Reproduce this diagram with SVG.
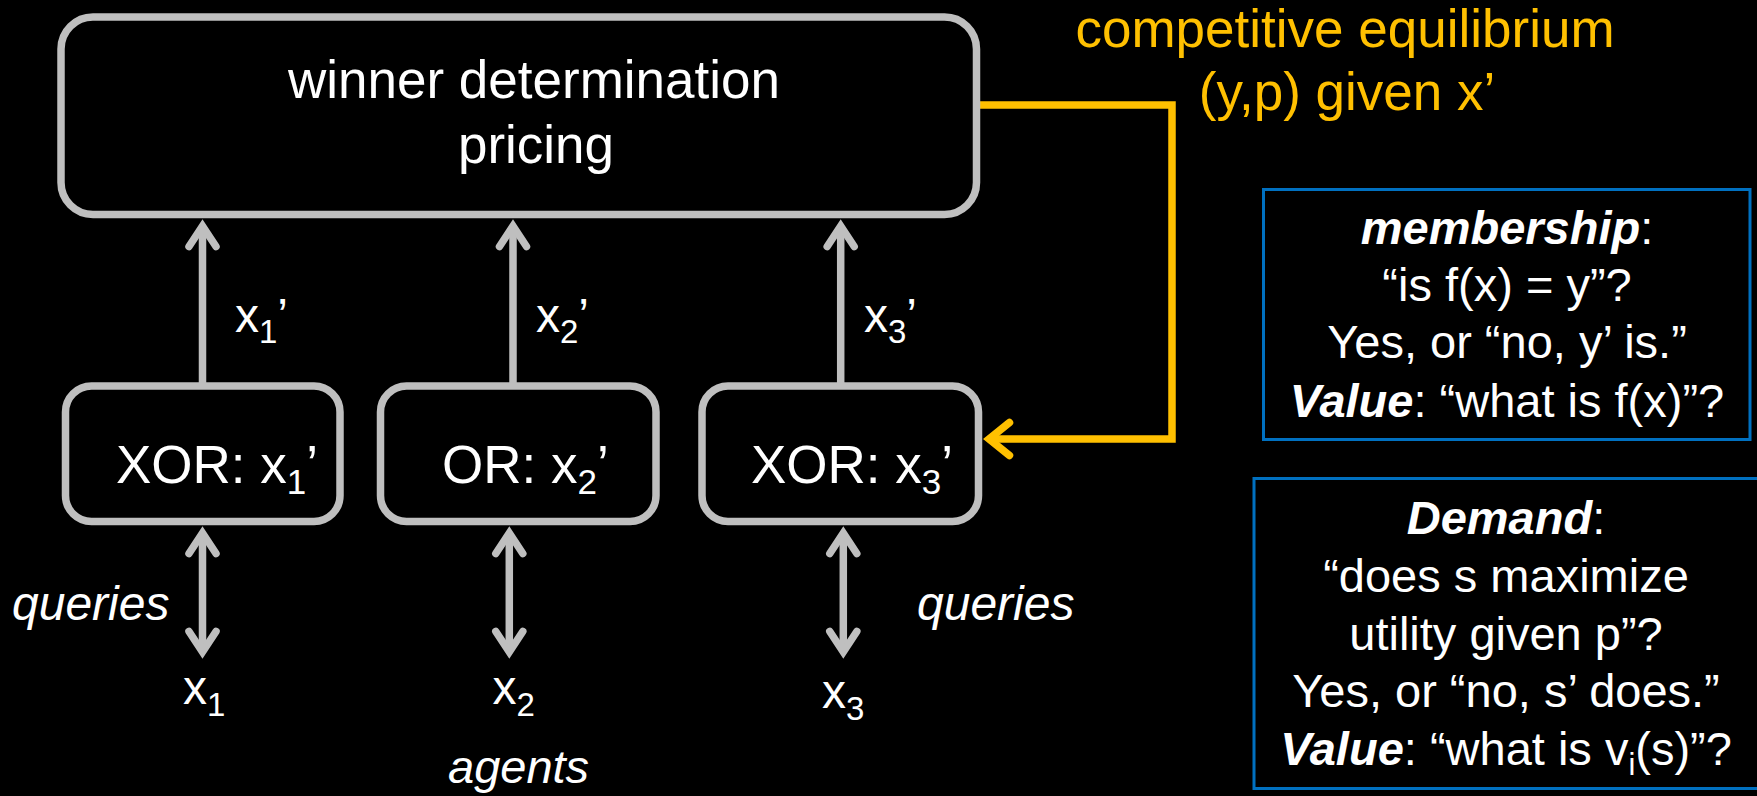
<svg xmlns="http://www.w3.org/2000/svg" width="1757" height="796" viewBox="0 0 1757 796">
  <defs>
    <style>
      text { font-family: "Liberation Sans", Arial, sans-serif; fill: #FFFFFF; }
      .big { font-size: 53px; }
      .lbl { font-size: 48px; }
      .info { font-size: 47px; text-anchor: middle; }
      .mid { text-anchor: middle; }
      .it { font-style: italic; }
      .bi { font-style: italic; font-weight: bold; }
      .gold { fill: #FFC000; }
      .box { fill: #000000; stroke: #BFBFBF; stroke-width: 7.5; }
      .panel { fill: #000000; stroke: #0070C0; stroke-width: 3; }
      .wire { fill: none; stroke: #BFBFBF; stroke-width: 7.5; }
      .head { fill: none; stroke: #BFBFBF; stroke-width: 7.5; stroke-linecap: round; stroke-linejoin: miter; stroke-miterlimit: 10; }
      .gwire { fill: none; stroke: #FFC000; stroke-width: 7.5; stroke-linejoin: miter; }
      .ghead { fill: none; stroke: #FFC000; stroke-width: 7.5; stroke-linecap: round; stroke-linejoin: miter; stroke-miterlimit: 10; }
    </style>
    <!-- open chevron arrowhead, tip at origin, pointing up -->
    <path id="chev" d="M -13.5 20.5 L 0 0 L 13.5 20.5"/>
  </defs>
  <rect width="1757" height="796" fill="#000000"/>

  <!-- connectors -->
  <g id="connectors">
    <!-- bids up to the centre -->
    <line class="wire" x1="202.5" y1="383" x2="202.5" y2="228"/>
    <use href="#chev" class="head" transform="translate(202.5,226)"/>
    <line class="wire" x1="513" y1="383" x2="513" y2="228"/>
    <use href="#chev" class="head" transform="translate(513,226)"/>
    <line class="wire" x1="840.7" y1="383" x2="840.7" y2="228"/>
    <use href="#chev" class="head" transform="translate(840.7,226)"/>

    <!-- two-way query links to agents -->
    <line class="wire" x1="202.5" y1="535" x2="202.5" y2="650"/>
    <use href="#chev" class="head" transform="translate(202.5,533)"/>
    <use href="#chev" class="head" transform="translate(202.5,652) rotate(180)"/>
    <line class="wire" x1="509.3" y1="535" x2="509.3" y2="650"/>
    <use href="#chev" class="head" transform="translate(509.3,533)"/>
    <use href="#chev" class="head" transform="translate(509.3,652) rotate(180)"/>
    <line class="wire" x1="843.3" y1="535" x2="843.3" y2="650"/>
    <use href="#chev" class="head" transform="translate(843.3,533)"/>
    <use href="#chev" class="head" transform="translate(843.3,652) rotate(180)"/>

    <!-- feedback loop -->
    <path class="gwire" d="M 980 105 H 1172 V 439 H 991"/>
    <path class="ghead" d="M 1009.5 422.5 L 989 439 L 1009.5 455.5"/>
  </g>

  <!-- centre -->
  <g id="center">
    <rect class="box" x="61" y="17" width="915.5" height="197.5" rx="32" ry="32"/>
    <text class="big mid" x="534" y="98">winner determination</text>
    <text class="big mid" x="536" y="163">pricing</text>
  </g>

  <!-- bidding languages -->
  <g id="lang1">
    <rect class="box" x="65.5" y="386" width="274.5" height="135.5" rx="26" ry="26"/>
    <text class="big" x="116" y="483">XOR: x<tspan font-size="35" dy="11">1</tspan><tspan dy="-11">’</tspan></text>
  </g>
  <g id="lang2">
    <rect class="box" x="380.5" y="386" width="275.5" height="135.5" rx="26" ry="26"/>
    <text class="big" x="442" y="483">OR: x<tspan font-size="35" dy="11">2</tspan><tspan dy="-11">’</tspan></text>
  </g>
  <g id="lang3">
    <rect class="box" x="702" y="386" width="276.5" height="135.5" rx="26" ry="26"/>
    <text class="big" x="751" y="483">XOR: x<tspan font-size="35" dy="11">3</tspan><tspan dy="-11">’</tspan></text>
  </g>

  <!-- edge labels -->
  <g id="bid-labels">
    <text class="lbl" x="235" y="332">x<tspan font-size="33" dy="11">1</tspan><tspan dy="-11">’</tspan></text>
    <text class="lbl" x="536" y="332">x<tspan font-size="33" dy="11">2</tspan><tspan dy="-11">’</tspan></text>
    <text class="lbl" x="864" y="332">x<tspan font-size="33" dy="11">3</tspan><tspan dy="-11">’</tspan></text>
    <text class="lbl it" x="12" y="620">queries</text>
    <text class="lbl it" x="917" y="620">queries</text>
  </g>

  <!-- agents -->
  <g id="agent1">
    <text class="lbl" x="183" y="704">x<tspan font-size="33" dy="12">1</tspan></text>
  </g>
  <g id="agent2">
    <text class="lbl" x="492.5" y="704">x<tspan font-size="33" dy="12">2</tspan></text>
  </g>
  <g id="agent3">
    <text class="lbl" x="822" y="708">x<tspan font-size="33" dy="12">3</tspan></text>
  </g>
  <text class="it" font-size="47" x="448" y="783">agents</text>

  <!-- loop caption -->
  <g id="equilibrium-label">
    <text class="big mid gold" x="1345" y="47">competitive equilibrium</text>
    <text class="big mid gold" x="1347" y="110">(y,p) given x’</text>
  </g>

  <!-- query types -->
  <g id="membership-box">
    <rect class="panel" x="1263.5" y="189.5" width="486.5" height="250"/>
    <text class="info" x="1507" y="244"><tspan class="bi">membership</tspan>:</text>
    <text class="info" x="1507" y="301">“is f(x) = y”?</text>
    <text class="info" x="1507" y="358">Yes, or “no, y’ is.”</text>
    <text class="info" x="1507" y="417"><tspan class="bi">Value</tspan>: “what is f(x)”?</text>
  </g>
  <g id="demand-box">
    <rect class="panel" x="1254" y="478.5" width="510" height="310"/>
    <text class="info" x="1506" y="534"><tspan class="bi">Demand</tspan>:</text>
    <text class="info" x="1506" y="592">“does s maximize</text>
    <text class="info" x="1506" y="650">utility given p”?</text>
    <text class="info" x="1506" y="707">Yes, or “no, s’ does.”</text>
    <text class="info" x="1506" y="765"><tspan class="bi">Value</tspan>: “what is v<tspan font-size="31" dy="10">i</tspan><tspan dy="-10">(s)”?</tspan></text>
  </g>
</svg>
